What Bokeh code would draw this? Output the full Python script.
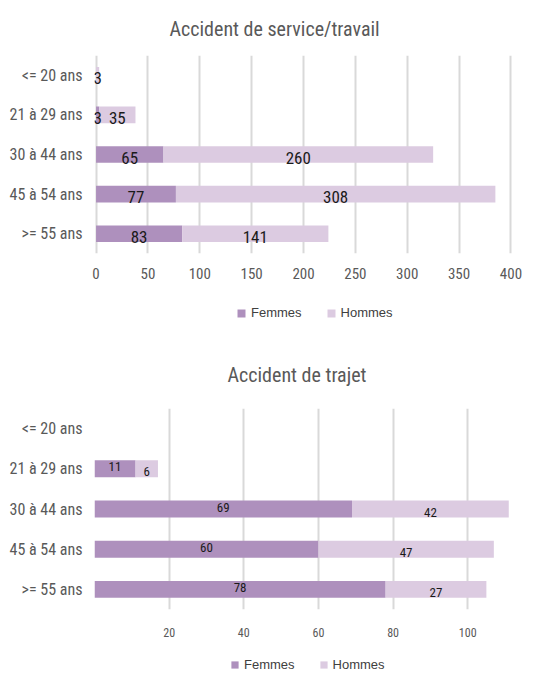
from bokeh.plotting import figure
from bokeh.models import (ColumnDataSource, FactorRange, Range1d, FixedTicker, LabelSet,
                          Legend, LegendItem, Title)
from bokeh.core.properties import value
from bokeh.layouts import column
from bokeh.embed import file_html
from bokeh.resources import INLINE

# ---- data ----
categories = ["<= 20 ans", "21 à 29 ans", "30 à 44 ans", "45 à 54 ans", ">= 55 ans"]
travail_femmes = [0, 3, 65, 77, 83]
travail_hommes = [3, 35, 260, 308, 141]
trajet_femmes = [0, 11, 69, 60, 78]
trajet_hommes = [0, 6, 42, 47, 27]
travail_ticks = [0, 50, 100, 150, 200, 250, 300, 350, 400]
trajet_ticks = [20, 40, 60, 80, 100]
series = ["Femmes", "Hommes"]

C_F = "#ae90bd"
C_H = "#dccbe1"
GRID = "#d9d9d9"
FONT = "Roboto Condensed"
TXT = "#595959"
W = 541


def make_chart(title, fem, hom, x_start, x_end, ticks, h, b_left, b_right, b_top, b_bottom,
               title_offset, title_standoff, title_size, tick_size, tick_standoff,
               lab_size, lab_dy_f, lab_dy_h):
    src = ColumnDataSource(dict(cat=categories, Femmes=fem, Hommes=hom))
    p = figure(width=W, height=h, output_backend="svg", toolbar_location=None,
               y_range=FactorRange(factors=list(reversed(categories))),
               x_range=Range1d(x_start, x_end),
               min_border_left=b_left, min_border_right=b_right,
               min_border_top=b_top, min_border_bottom=b_bottom)
    p.outline_line_color = None

    t = Title(text=title, align="left", text_font=FONT, text_font_size=f"{title_size}px",
              text_font_style="normal", text_color=TXT, offset=title_offset,
              standoff=title_standoff)
    p.add_layout(t, "above")

    p.hbar_stack(series, y="cat", height=0.42, color=[C_F, C_H], line_color=None, source=src)

    fx, fy, ft, hx, hy, ht = [], [], [], [], [], []
    for c, f, m in zip(categories, fem, hom):
        if f > 0:
            fx.append(f / 2); fy.append(c); ft.append(str(f))
        if m > 0:
            hx.append(f + m / 2); hy.append(c); ht.append(str(m))
    for xs, ys, ts, dy in ((fx, fy, ft, lab_dy_f), (hx, hy, ht, lab_dy_h)):
        p.add_layout(LabelSet(x="x", y="y", text="t",
                              source=ColumnDataSource(dict(x=xs, y=ys, t=ts)),
                              text_align="center", text_baseline="middle",
                              text_font=value(FONT),
                              text_font_size=f"{lab_size}px", text_color="#1a1a1a",
                              y_offset=dy))

    p.xaxis.ticker = FixedTicker(ticks=ticks)
    p.xaxis.axis_line_color = None
    p.xaxis.major_tick_line_color = None
    p.xaxis.minor_tick_line_color = None
    p.xaxis.major_tick_out = 0
    p.xaxis.major_label_standoff = tick_standoff
    p.xaxis.major_label_text_font = FONT
    p.xaxis.major_label_text_font_size = f"{tick_size}px"
    p.xaxis.major_label_text_color = TXT

    p.yaxis.axis_line_color = None
    p.yaxis.major_tick_line_color = None
    p.yaxis.major_tick_out = 0
    p.yaxis.major_label_standoff = 12
    p.yaxis.major_label_text_font = FONT
    p.yaxis.major_label_text_font_size = "16px"
    p.yaxis.major_label_text_color = TXT

    p.ygrid.grid_line_color = None
    p.xgrid.grid_line_color = GRID
    p.xgrid.grid_line_width = 2
    return p


def make_legend(h, lx, ly, gsize):
    # legend strip: swatch renderers are zero-size, only used for the legend glyphs
    lp = figure(width=W, height=h, output_backend="svg", toolbar_location=None,
                x_range=Range1d(0, 1), y_range=Range1d(0, 1), min_border=0,
                x_axis_location=None, y_axis_location=None)
    lp.grid.grid_line_color = None
    lp.outline_line_color = None
    sw = ColumnDataSource(dict(y=[0.5], l=[0.0], r=[0.0]))
    rf = lp.hbar(y="y", left="l", right="r", height=0.0, color=C_F, line_color=None, source=sw)
    rh = lp.hbar(y="y", left="l", right="r", height=0.0, color=C_H, line_color=None, source=sw)
    legend = Legend(items=[LegendItem(label=series[0], renderers=[rf]),
                           LegendItem(label=series[1], renderers=[rh])],
                    orientation="horizontal", location=(lx, ly),
                    glyph_width=gsize, glyph_height=gsize, label_height=gsize,
                    label_text_font="Liberation Sans",
                    label_text_font_size="13px", label_text_color="#404040",
                    label_standoff=5, spacing=24, padding=0, margin=0,
                    border_line_color=None, background_fill_alpha=0)
    lp.add_layout(legend, "center")
    return lp


p1 = make_chart("Accident de service/travail", travail_femmes, travail_hommes,
                -1.5, 401.5, travail_ticks, 290, 93, 29, 51, 37,
                75, 29, 20, 15, 14, 17, -3, -3)
l1 = make_legend(48, 142, 18, 10)
p2 = make_chart("Accident de trajet", trajet_femmes, trajet_hommes,
                0, 112, trajet_ticks, 304, 94, 21, 69, 33,
                133, 44, 20, 12, 18, 13, 2, -3)
l2 = make_legend(33, 136, 3, 9)

layout = column(p1, l1, p2, l2, spacing=0)
open("out.html", "w").write(file_html(layout, INLINE))
